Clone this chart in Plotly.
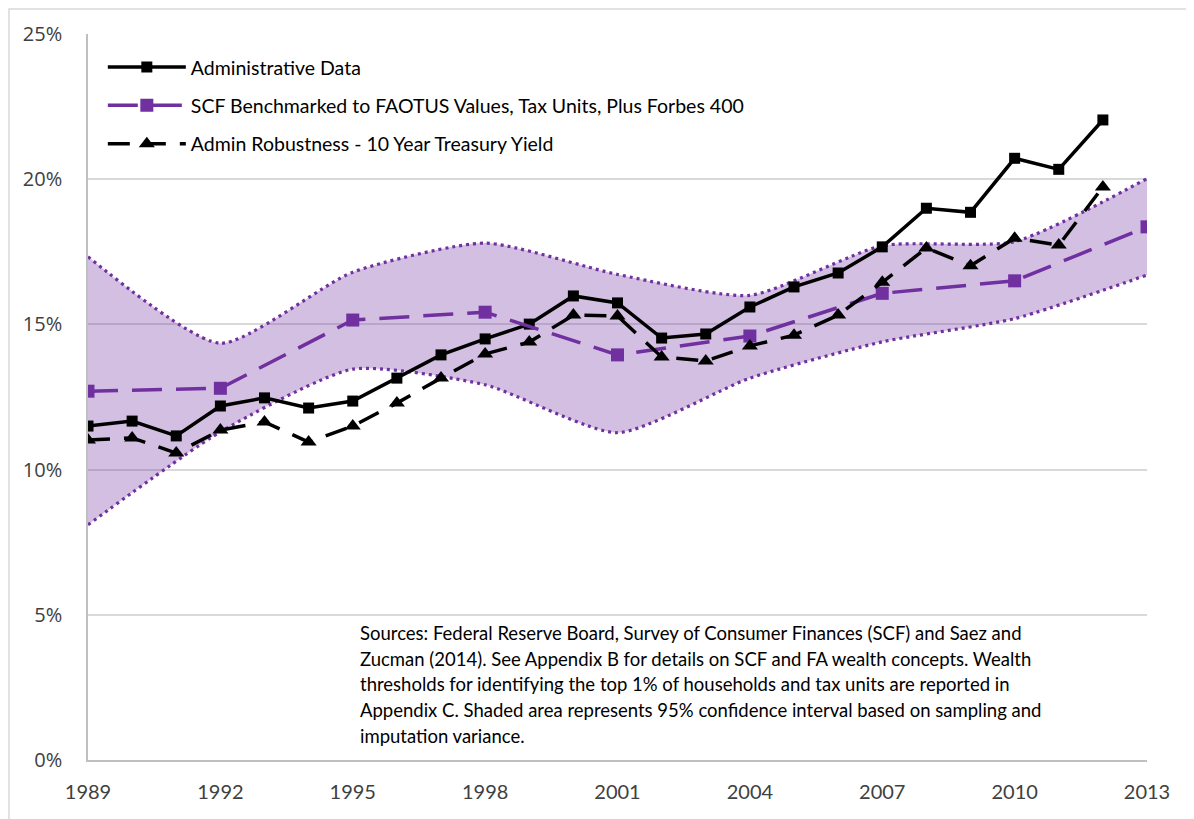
import plotly.graph_objects as go

years_admin = list(range(1989, 2013))
admin = [11.50, 11.67, 11.16, 12.19, 12.47, 12.12, 12.36, 13.15, 13.95, 14.50, 15.01, 15.98,
         15.74, 14.53, 14.67, 15.60, 16.29, 16.77, 17.67, 19.00, 18.86, 20.72, 20.34, 22.04]
robust = [11.02, 11.09, 10.57, 11.36, 11.64, 10.95, 11.50, 12.29, 13.15, 13.98, 14.39, 15.32,
          15.29, 13.88, 13.74, 14.26, 14.63, 15.32, 16.45, 17.63, 17.02, 17.97, 17.73, 19.73]

years_scf = [1989, 1992, 1995, 1998, 2001, 2004, 2007, 2010, 2013]
scf = [12.70, 12.80, 15.15, 15.42, 13.95, 14.60, 16.07, 16.50, 18.36]
scf_upper = [17.33, 14.35, 16.80, 17.80, 16.72, 16.00, 17.71, 17.85, 20.02]
scf_lower = [8.10, 11.30, 13.46, 12.92, 11.27, 13.15, 14.40, 15.20, 16.70]

x_ticks = [1989, 1992, 1995, 1998, 2001, 2004, 2007, 2010, 2013]
y_ticks = [0, 5, 10, 15, 20, 25]
y_labels = ["0%", "5%", "10%", "15%", "20%", "25%"]

note_lines = [
    "Sources: Federal Reserve Board, Survey of Consumer Finances (SCF) and Saez and",
    "Zucman (2014). See Appendix B for details on SCF and FA wealth concepts. Wealth",
    "thresholds for identifying the top 1% of households and tax units are reported in",
    "Appendix C. Shaded area represents 95% confidence interval based on sampling and",
    "imputation variance.",
]

PURPLE = "#7030A0"
FILL = "rgba(112,48,160,0.31)"

fig = go.Figure()

fig.add_trace(go.Scatter(x=years_scf, y=scf_lower, mode="lines", showlegend=False,
                         line=dict(color=PURPLE, width=3.2, dash="3px,4px", shape="spline", smoothing=0.6),
                         hoverinfo="skip"))
fig.add_trace(go.Scatter(x=years_scf, y=scf_upper, mode="lines", showlegend=False, fill="tonexty",
                         fillcolor=FILL,
                         line=dict(color=PURPLE, width=3.2, dash="3px,4px", shape="spline", smoothing=0.6),
                         hoverinfo="skip"))

fig.add_trace(go.Scatter(x=years_admin, y=admin, mode="lines+markers", name="Administrative Data",
                         legendgroup="a",
                         line=dict(color="black", width=3.5),
                         marker=dict(symbol="square", size=11, color="black")))
fig.add_trace(go.Scatter(x=years_scf, y=scf, mode="lines+markers",
                         name="SCF Benchmarked to FAOTUS Values, Tax Units, Plus Forbes 400",
                         legendgroup="b",
                         line=dict(color=PURPLE, width=3.5, dash="30px,14px"),
                         marker=dict(symbol="square", size=13, color=PURPLE)))
fig.add_trace(go.Scatter(x=years_admin, y=robust, mode="lines+markers",
                         name="Admin Robustness - 10 Year Treasury Yield",
                         legendgroup="c",
                         line=dict(color="black", width=3.5, dash="22px,14px"),
                         marker=dict(symbol="triangle-up", size=14, color="black")))

# outer chart border
fig.add_shape(type="rect", xref="paper", yref="paper",
              x0=-0.0746, x1=1.06, y0=-0.1, y1=1.0344,
              line=dict(color="#D9D9D9", width=1.5), fillcolor="rgba(0,0,0,0)", layer="below")

line_centers_px = [633, 658.5, 684, 709.5, 736]
for txt, ypx in zip(note_lines, line_centers_px):
    fig.add_annotation(text=txt, xref="paper", yref="paper", x=0.255, y=(760 - ypx) / 726,
                       xanchor="left", yanchor="middle", align="left", showarrow=False,
                       font=dict(family="Lato, Carlito, sans-serif", size=18.5, color="black"))

fig.update_layout(
    width=1186, height=811,
    margin=dict(l=80, r=47, t=26, b=59),
    paper_bgcolor="white", plot_bgcolor="white",
    font=dict(family="Lato, sans-serif", color="#404040"),
    legend=dict(x=0.014, y=0.981, xanchor="left", yanchor="top",
                bgcolor="rgba(0,0,0,0)", traceorder="grouped", tracegroupgap=10,
                font=dict(family="Lato, sans-serif", size=19.5, color="black"),
                itemwidth=78),
    xaxis=dict(range=[1989, 2013], tickvals=x_ticks, ticktext=[str(v) for v in x_ticks],
               showgrid=False, zeroline=False, showline=True, linecolor="#BFBFBF", linewidth=1.5,
               ticks="", ticklen=0, ticklabelstandoff=13,
               tickfont=dict(family="Lato, sans-serif", size=20, color="#404040")),
    yaxis=dict(range=[0, 25], tickvals=y_ticks, ticktext=y_labels,
               showgrid=True, gridcolor="#D9D9D9", gridwidth=1.5, zeroline=False,
               showline=True, linecolor="#BFBFBF", linewidth=1.5, ticks="", ticklabelstandoff=20,
               tickfont=dict(family="Open Sans, sans-serif", size=20, color="#404040")),
)

fig.write_html("out.html")
